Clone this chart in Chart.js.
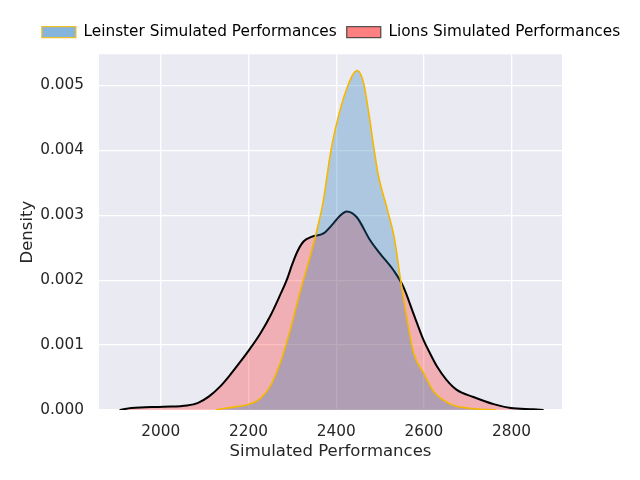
<!DOCTYPE html>
<html><head><meta charset="utf-8">
<script src="https://cdn.jsdelivr.net/npm/chart.js@4.4.1/dist/chart.umd.min.js"></script>
<style>html,body{margin:0;padding:0;background:#fff;}</style>
</head><body>
<canvas id="c" width="640" height="480"></canvas>
<script>
const seriesNames = ['Leinster Simulated Performances', 'Lions Simulated Performances'];
const leinsterX = [2125, 2150, 2196, 2227, 2249, 2272, 2295, 2318, 2340, 2357, 2370, 2379, 2386, 2398, 2424, 2448, 2462, 2474, 2485, 2496, 2517, 2532, 2547, 2562, 2577, 2600, 2623, 2661, 2699, 2765];
const leinsterY = [0, 0.00003, 0.00008, 0.00018, 0.00036, 0.00072, 0.00123, 0.00183, 0.00235, 0.0028, 0.0032, 0.0036, 0.00392, 0.00433, 0.00495, 0.00523, 0.00505, 0.00459, 0.00408, 0.00362, 0.00308, 0.00267, 0.002, 0.00138, 0.00087, 0.00056, 0.00028, 0.00009, 0.00003, 0];
const lionsX = [1906, 1933, 2006, 2060, 2085, 2110, 2135, 2158, 2181, 2204, 2227, 2249, 2272, 2287, 2300, 2312, 2326, 2345, 2371, 2394, 2408, 2424, 2447, 2477, 2500, 2531, 2553, 2576, 2599, 2615, 2630, 2652, 2675, 2713, 2759, 2798, 2850, 2873];
const lionsY = [0, 0.00003, 0.00005, 0.00007, 0.00011, 0.00021, 0.00036, 0.00054, 0.00074, 0.00095, 0.00118, 0.00144, 0.00177, 0.00200, 0.00225, 0.00245, 0.00260, 0.00267, 0.00272, 0.00288, 0.00299, 0.00306, 0.00297, 0.00262, 0.00241, 0.00215, 0.00190, 0.00149, 0.00108, 0.00086, 0.00067, 0.00046, 0.00031, 0.00020, 0.00009, 0.00003, 0.00001, 0];
const xTicks = [2000, 2200, 2400, 2600, 2800];
const yTicks = [0, 0.001, 0.002, 0.003, 0.004, 0.005];

const TEXT = '#262626';
Chart.defaults.font.family = 'DejaVu Sans';
Chart.defaults.color = TEXT;

const bgPlugin = {
  id: 'bg',
  beforeDraw(chart) {
    const a = chart.chartArea, ctx = chart.ctx;
    ctx.save();
    ctx.fillStyle = '#EAEAF2';
    ctx.fillRect(a.left, a.top, a.right - a.left, a.bottom - a.top);
    ctx.restore();
  }
};

const legendFill = ['rgb(133,180,220)', 'rgb(255,128,128)'];
const legendEdge = ['rgb(240,190,40)', 'rgba(60,60,60,0.85)'];

function pts(xs, ys) { return xs.map((x, i) => ({x: x, y: ys[i]})); }

new Chart(document.getElementById('c'), {
  type: 'line',
  data: {
    datasets: [
      {
        label: seriesNames[0],
        data: pts(leinsterX, leinsterY),
        borderColor: '#F5B800',
        borderWidth: 1.6,
        backgroundColor: 'rgba(31,119,180,0.3)',
        fill: 'origin',
        pointRadius: 0,
        cubicInterpolationMode: 'monotone'
      },
      {
        label: seriesNames[1],
        data: pts(lionsX, lionsY),
        borderColor: '#000000',
        borderWidth: 2,
        backgroundColor: 'rgba(255,0,0,0.25)',
        fill: 'origin',
        pointRadius: 0,
        cubicInterpolationMode: 'monotone'
      }
    ]
  },
  options: {
    responsive: false,
    animation: false,
    devicePixelRatio: 1,
    layout: { padding: { left: 22, right: 0, top: 14.5, bottom: 0 } },
    plugins: {
      tooltip: { enabled: false },
      legend: {
        position: 'top',
        labels: {
          boxWidth: 34,
          boxHeight: 11,
          padding: 10,
          font: { size: 15.3 },
          color: TEXT,
          generateLabels(chart) {
            return chart.data.datasets.map((d, i) => ({
              text: d.label,
              fillStyle: legendFill[i],
              strokeStyle: legendEdge[i],
              lineWidth: 1.3,
              hidden: false,
              datasetIndex: i
            }));
          }
        }
      }
    },
    scales: {
      x: {
        type: 'linear',
        min: 1859,
        max: 2915,
        afterBuildTicks(s) { s.ticks = xTicks.map(v => ({value: v})); },
        afterFit(s) { s.height = 70; },
        ticks: { font: { size: 15.3 }, color: TEXT, padding: 13, maxRotation: 0, callback: v => String(v) },
        grid: { color: '#ffffff', lineWidth: 1.3, drawTicks: false },
        border: { display: false },
        title: { display: true, text: 'Simulated Performances', font: { size: 16.5 }, color: TEXT, padding: { top: 4, bottom: 18 } }
      },
      xTop: {
        type: 'linear',
        position: 'top',
        display: true,
        min: 1859, max: 2915,
        afterFit(s) { s.height = 4.5; },
        ticks: { display: false },
        grid: { display: false, drawTicks: false },
        border: { display: false }
      },
      y: {
        type: 'linear',
        min: 0,
        max: 0.00548,
        afterBuildTicks(s) { s.ticks = yTicks.map(v => ({value: v})); },
        afterFit(s) { s.width = 77; },
        ticks: { font: { size: 15.3 }, color: TEXT, padding: 15, callback: v => v.toFixed(3) },
        grid: { color: '#ffffff', lineWidth: 1.3, drawTicks: false },
        border: { display: false },
        title: { display: true, text: 'Density', font: { size: 16.5 }, color: TEXT, padding: { top: -4, bottom: 0 } }
      },
      yRight: {
        type: 'linear',
        position: 'right',
        display: true,
        min: 0, max: 0.00548,
        afterFit(s) { s.width = 78; },
        ticks: { display: false },
        grid: { display: false, drawTicks: false },
        border: { display: false }
      }
    }
  },
  plugins: [bgPlugin]
});
</script>
</body></html>
